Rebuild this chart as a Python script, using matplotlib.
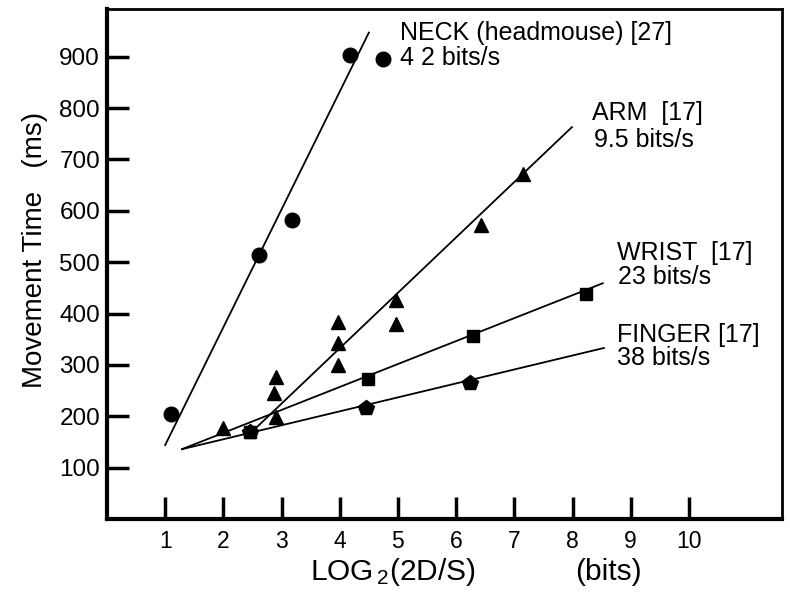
import matplotlib
matplotlib.use("Agg")
import matplotlib.pyplot as plt

plt.rcParams['font.family'] = ['Liberation Sans', 'DejaVu Sans']

# data (x = log2(2D/S) bits, y = movement time ms)
neck_x = [1.10, 2.61, 3.18, 4.18, 4.74]
neck_y = [204, 514, 582, 903, 895]
neck_fit_x = [1.0, 4.5]
neck_fit_y = [144, 947]

arm_x = [2.0, 2.9, 2.87, 2.9, 3.97, 3.97, 3.97, 4.97, 4.97, 6.43, 7.15]
arm_y = [177, 276, 245, 199, 383, 342, 300, 426, 379, 572, 671]
arm_fit_x = [2.4, 7.99]
arm_fit_y = [160, 763]

wrist_x = [2.46, 4.48, 6.29, 8.23]
wrist_y = [169, 272, 356, 438]
wrist_fit_x = [1.29, 8.52]
wrist_fit_y = [136, 459]

finger_x = [2.46, 4.45, 6.24]
finger_y = [169, 216, 265]
finger_fit_x = [1.29, 8.54]
finger_fit_y = [136, 333]

x_ticks = [1, 2, 3, 4, 5, 6, 7, 8, 9, 10]
y_ticks = [100, 200, 300, 400, 500, 600, 700, 800, 900]

fig = plt.figure(figsize=(7.9, 5.97), dpi=100)
ax = fig.add_axes([107 / 790, 78 / 597, 675 / 790, 510 / 597])

# fitted lines
for fx, fy in [(neck_fit_x, neck_fit_y), (arm_fit_x, arm_fit_y),
               (wrist_fit_x, wrist_fit_y), (finger_fit_x, finger_fit_y)]:
    ax.plot(fx, fy, color='black', lw=1.3)

ax.plot(neck_x, neck_y, 'o', color='black', ms=10.5)
ax.plot(arm_x, arm_y, '^', color='black', ms=10.5)
ax.plot(wrist_x, wrist_y, 's', color='black', ms=9)
ax.plot(finger_x, finger_y, 'p', color='black', ms=11.5)

ax.set_xlim(0, 11.6)
ax.set_ylim(0, 993)
ax.set_xticks(x_ticks)
ax.set_yticks(y_ticks)
ax.tick_params(direction='in', length=16, width=2.5)
ax.tick_params(axis='x', pad=8, labelsize=16.5)
ax.tick_params(axis='y', pad=5, labelsize=17.5)
for s in ['left', 'bottom']:
    ax.spines[s].set_linewidth(3)
for s in ['top', 'right']:
    ax.spines[s].set_linewidth(2)

# curve labels
fs = 18
ax.text(5.03, 947, "NECK (headmouse) [27]", fontsize=fs, va='center')
ax.text(5.03, 897, "4 2 bits/s", fontsize=fs, va='center')
ax.text(8.33, 790, "ARM  [17]", fontsize=fs, va='center')
ax.text(8.37, 737, "9.5 bits/s", fontsize=fs, va='center')
ax.text(8.76, 518, "WRIST  [17]", fontsize=fs, va='center')
ax.text(8.78, 471, "23 bits/s", fontsize=fs, va='center')
ax.text(8.76, 358, "FINGER [17]", fontsize=fs, va='center')
ax.text(8.76, 313, "38 bits/s", fontsize=fs, va='center')

# axis titles
fig.text(35 / 790, 1 - 250 / 597, "Movement Time   (ms)", rotation=90,
         fontsize=20, ha='center', va='center')
fig.text(310 / 790, 1 - 572 / 597, r"$\mathregular{LOG_{\,2}(2D/S)}$",
         fontsize=21.5, ha='left', va='center')
fig.text(575 / 790, 1 - 572 / 597, "(bits)", fontsize=21.5, ha='left', va='center')

fig.savefig("out.png", dpi=100)
